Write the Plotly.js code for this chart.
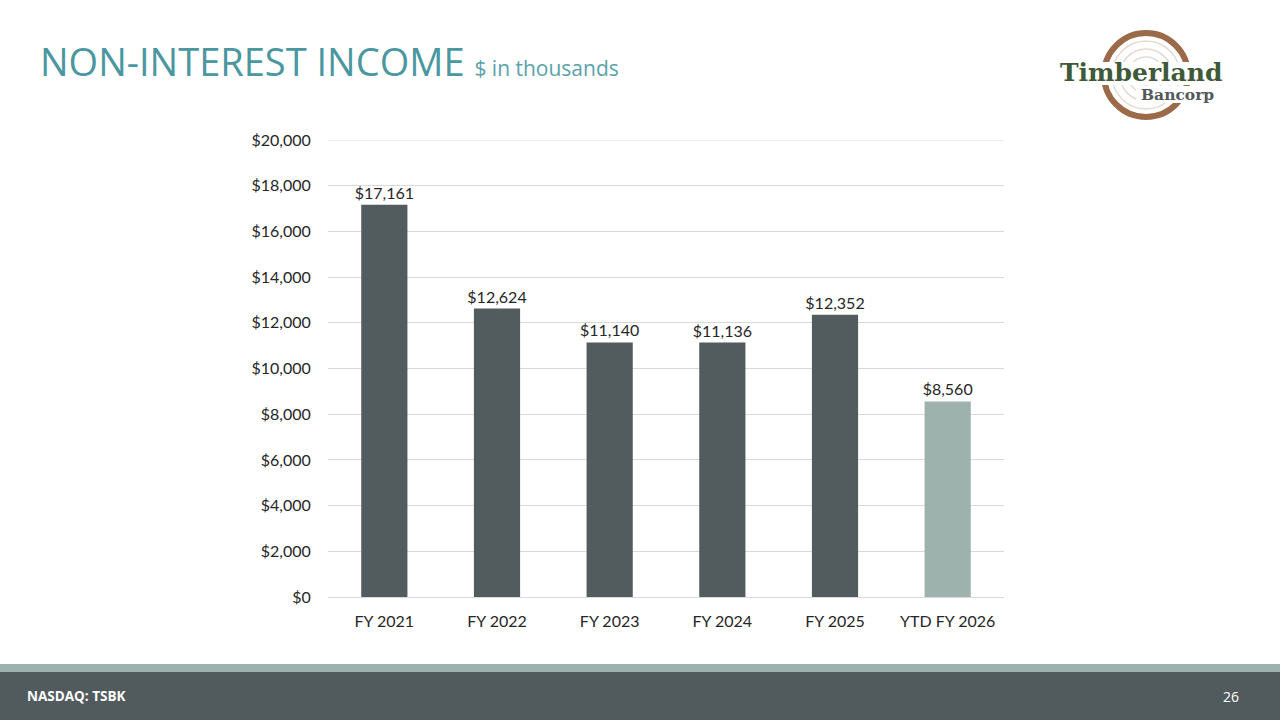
<!DOCTYPE html>
<html>
<head>
<meta charset="utf-8">
<script src="https://cdn.plot.ly/plotly-3.0.1.min.js"></script>
<style>html,body{margin:0;padding:0;background:#fff;}#chart{width:1280px;height:720px;}</style>
</head>
<body>
<div id="chart"></div>
<script>
const categories = ["FY 2021", "FY 2022", "FY 2023", "FY 2024", "FY 2025", "YTD FY 2026"];
const values = [17161, 12624, 11140, 11136, 12352, 8560];
const barColors = ["#525b5d", "#525b5d", "#525b5d", "#525b5d", "#525b5d", "#9db2ad"];
const yTickVals = [0, 2000, 4000, 6000, 8000, 10000, 12000, 14000, 16000, 18000, 20000];
const yTickText = yTickVals.map(v => "$" + v.toLocaleString("en-US"));
const labels = values.map(v => "$" + v.toLocaleString("en-US"));

const FONT = "Lato, 'Open Sans', sans-serif";
const X0 = 328/1280, X1 = 1004/1280;

const trace = {
  type: "bar",
  x: categories,
  y: values,
  marker: {color: barColors},
  width: 0.41,
  text: labels,
  textposition: "outside",
  constraintext: "none",
  cliponaxis: false,
  textfont: {family: FONT, size: 16, color: "#262626"},
  hoverinfo: "none"
};

const P = (px) => px / 1280;
const Q = (py) => 1 - py / 720;

const layout = {
  width: 1280, height: 720,
  margin: {l: 0, r: 0, t: 0, b: 0},
  paper_bgcolor: "#ffffff",
  plot_bgcolor: "#ffffff",
  showlegend: false,
  xaxis: {
    domain: [X0, X1],
    anchor: "y",
    tickfont: {family: FONT, size: 16, color: "#262626"},
    showline: true, linecolor: "#d9d9d9", linewidth: 1,
    ticks: "outside", ticklen: 10, tickcolor: "rgba(0,0,0,0)",
    fixedrange: true
  },
  yaxis: {
    domain: [Q(597), Q(140)],
    range: [0, 20000],
    tickvals: yTickVals,
    ticktext: yTickText,
    tickfont: {family: FONT, size: 16, color: "#262626"},
    showgrid: true, gridcolor: "#d9d9d9", gridwidth: 1,
    zeroline: false,
    showline: false,
    ticks: "outside", ticklen: 13, tickcolor: "rgba(0,0,0,0)",
    fixedrange: true
  },
  shapes: [
    {type: "line", xref: "paper", yref: "y", x0: X0, x1: X1, y0: yTickVals[yTickVals.length - 1], y1: yTickVals[yTickVals.length - 1], line: {color: "#d9d9d9", width: 1}, layer: "below"},
    {type: "rect", xref: "paper", yref: "paper", x0: 0, x1: 1, y0: Q(672), y1: Q(664), fillcolor: "#9db2ad", line: {width: 0}},
    {type: "rect", xref: "paper", yref: "paper", x0: 0, x1: 1, y0: 0, y1: Q(672), fillcolor: "#515b5e", line: {width: 0}},
    {type: "circle", xref: "paper", yref: "paper", x0: P(1104), x1: P(1188), y0: Q(117), y1: Q(33), line: {color: "#9b6a49", width: 6}},
    {type: "circle", xref: "paper", yref: "paper", x0: P(1112), x1: P(1180), y0: Q(109), y1: Q(41), line: {color: "#e6d9d1", width: 1.5}},
    {type: "circle", xref: "paper", yref: "paper", x0: P(1120), x1: P(1172), y0: Q(101), y1: Q(49), line: {color: "#e6d9d1", width: 1.5}},
    {type: "circle", xref: "paper", yref: "paper", x0: P(1128), x1: P(1164), y0: Q(93), y1: Q(57), line: {color: "#e6d9d1", width: 1.5}},
    {type: "circle", xref: "paper", yref: "paper", x0: P(1136), x1: P(1156), y0: Q(85), y1: Q(65), line: {color: "#e6d9d1", width: 1.5}},
    {type: "rect", xref: "paper", yref: "paper", x0: P(1058), x1: P(1224), y0: Q(85), y1: Q(62), fillcolor: "#ffffff", line: {width: 0}},
    {type: "rect", xref: "paper", yref: "paper", x0: P(1136), x1: P(1216), y0: Q(103), y1: Q(86), fillcolor: "#ffffff", line: {width: 0}}
  ],
  annotations: [
    {xref: "paper", yref: "paper", x: P(38), y: Q(61), xanchor: "left", yanchor: "middle", showarrow: false,
     text: "NON-INTEREST INCOME <span style='font-size:21px;color:#5aa2aa'>$ in thousands</span>",
     font: {family: "'Open Sans', sans-serif", size: 38, color: "#4a97a0"}},
    {xref: "paper", yref: "paper", x: P(1141), y: Q(73), xanchor: "center", yanchor: "middle", showarrow: false,
     text: "<b>Timberland</b>", borderpad: 0,
     font: {family: "'DejaVu Serif', serif", size: 25, color: "#3e5a38"}},
    {xref: "paper", yref: "paper", x: P(1177), y: Q(95), xanchor: "center", yanchor: "middle", showarrow: false,
     text: "<b>Bancorp</b>", borderpad: 0,
     font: {family: "'DejaVu Serif', serif", size: 15.5, color: "#52595a"}},
    {xref: "paper", yref: "paper", x: P(25), y: Q(696), xanchor: "left", yanchor: "middle", showarrow: false,
     text: "<b>NASDAQ: TSBK</b>", font: {family: "'Open Sans', sans-serif", size: 13.5, color: "#ffffff"}},
    {xref: "paper", yref: "paper", x: P(1241), y: Q(696), xanchor: "right", yanchor: "middle", showarrow: false,
     text: "26", font: {family: "'Open Sans', sans-serif", size: 14, color: "#ffffff"}}
  ]
};

Plotly.newPlot("chart", [trace], layout, {displayModeBar: false, staticPlot: true});
</script>
</body>
</html>
